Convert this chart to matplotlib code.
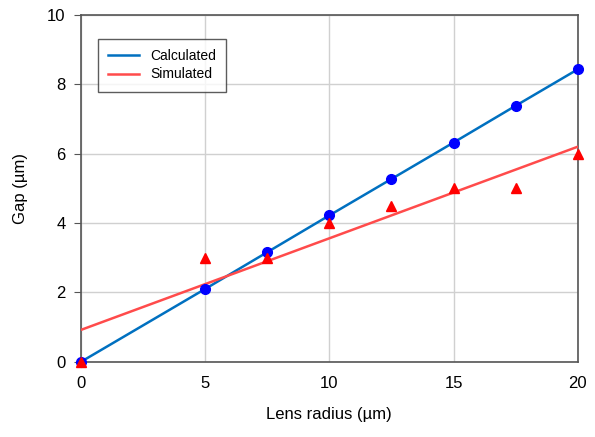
import matplotlib
matplotlib.use("Agg")
import matplotlib.pyplot as plt

plt.rcParams['font.family'] = ['Liberation Sans', 'DejaVu Sans']

radius = [0, 5, 7.5, 10, 12.5, 15, 17.5, 20]
gap_calc = [0, 2.1, 3.16, 4.22, 5.27, 6.32, 7.38, 8.43]
gap_sim = [0, 3, 3, 4, 4.5, 5, 5, 6]
# trendline of the simulated points, end values
fit_x = [0, 20]
fit_sim = [0.92, 6.2]

fig = plt.figure(figsize=(5.95, 4.37), dpi=100)
ax = fig.add_axes([0.136, 0.172, 0.835, 0.794])

ax.plot(radius, gap_calc, color='#0070C0', lw=1.8, label='Calculated', zorder=3)
ax.plot(fit_x, fit_sim, color='#FF4B4B', lw=1.8, label='Simulated', zorder=3)
ax.plot(radius, gap_calc, 'o', color='#0000FF', ms=7, zorder=4, clip_on=False)
ax.plot(radius, gap_sim, '^', color='#FF0000', ms=7, zorder=4, clip_on=False)

ax.set_xlim(0, 20)
ax.set_ylim(0, 10)
ax.set_xticks([0, 5, 10, 15, 20])
ax.set_yticks([0, 2, 4, 6, 8, 10])
ax.grid(True, color='#D0D0D0', lw=1)
ax.set_axisbelow(True)
for s in ax.spines.values():
    s.set_color('#555555')
    s.set_linewidth(1.2)
ax.tick_params(axis='y', direction='out', length=5, color='#555555', labelsize=12, pad=6)
ax.tick_params(axis='x', length=0, labelsize=12, pad=10)

ax.set_xlabel('Lens radius (µm)', fontsize=12, labelpad=12)
ax.set_ylabel('Gap (µm)', fontsize=12, labelpad=14)

leg = ax.legend(loc='upper left', bbox_to_anchor=(0.034, 0.931), fontsize=10,
                frameon=True, fancybox=False, edgecolor='#333333', borderpad=0.75,
                borderaxespad=0, handlelength=2.2, handletextpad=0.8,
                labelspacing=0.3)
leg.get_frame().set_linewidth(1.0)

fig.savefig('out.png', dpi=100)
